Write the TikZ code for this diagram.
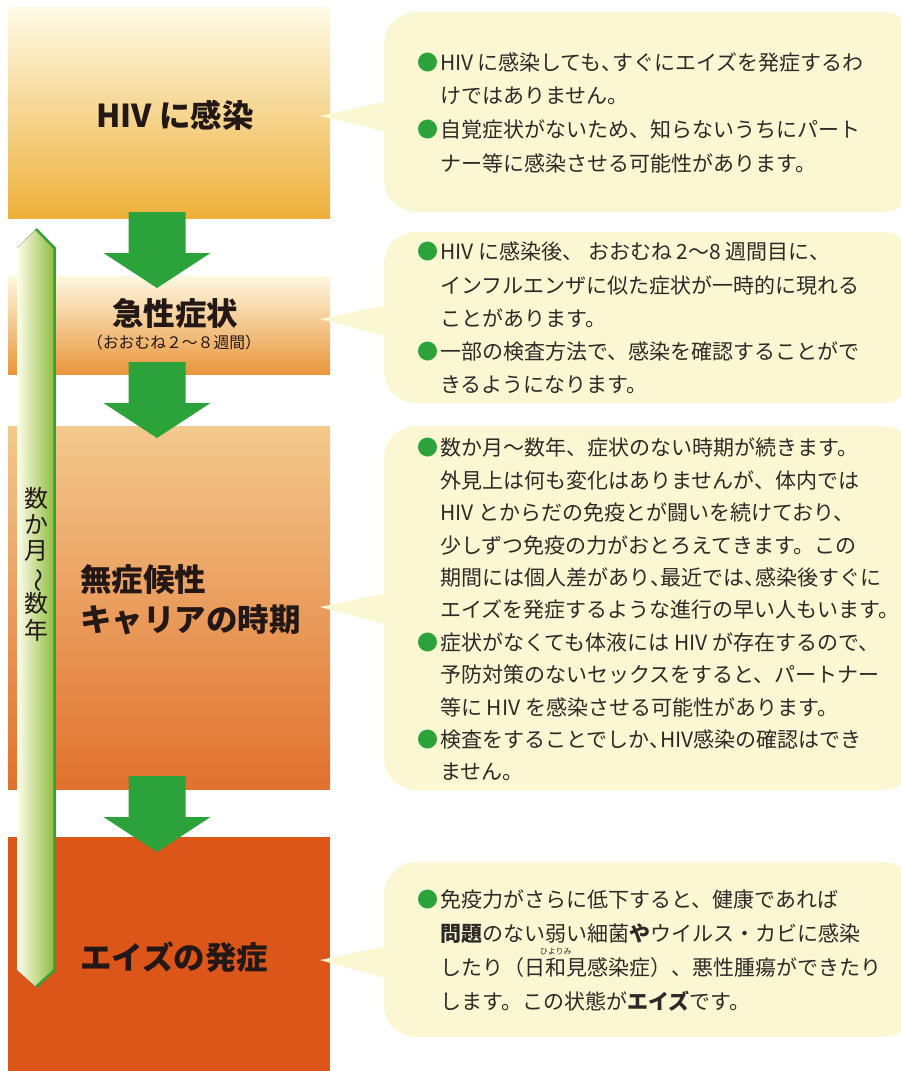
\documentclass[tikz,border=0pt]{standalone}
\usepackage{fontspec}
\setmainfont{Noto Sans CJK JP}
\usepackage{graphicx}
\definecolor{cream}{HTML}{FCF7D3}
\definecolor{agreen}{HTML}{2CA33A}
\definecolor{txt}{HTML}{231815}
\definecolor{btxt}{HTML}{2E2926}
\definecolor{bAtop}{HTML}{FEFBE6}
\definecolor{bAbot}{HTML}{EEB03B}
\definecolor{bBtop}{HTML}{FEF8E0}
\definecolor{bBbot}{HTML}{E9963B}
\definecolor{bCtop}{HTML}{F3C98C}
\definecolor{bCbot}{HTML}{E1712E}
\definecolor{bD}{HTML}{DC5519}
\definecolor{barL}{HTML}{FFFDEA}
\definecolor{barR}{HTML}{8CBB3B}
\definecolor{barE}{HTML}{35A035}
\newcommand\bul{\llap{\textcolor{agreen}{●}\kern1.5pt}}
\newcommand\hc{\makebox[0.5em][l]{、}}
\newcommand\myruby[2]{\leavevmode\setbox0\hbox{#1}\rlap{\hbox to\wd0{\hss\smash{\raisebox{1em}{\fontsize{8}{8}\selectfont #2}}\hss}}\box0}
\begin{document}
\begin{tikzpicture}[x=1pt,y=-1pt,
  stagebox/.style={draw=none,inner sep=0pt,outer sep=0pt,anchor=north west},
  title/.style={inner sep=0pt,text=txt,font=\fontsize{31.5}{40}\selectfont\bfseries},
  subtitle/.style={inner sep=0pt,text=txt,font=\fontsize{15.8}{17}\selectfont},
  ctext/.style={inner sep=0pt,anchor=north west,align=left,text=btxt},
  vtext/.style={inner sep=0pt,align=center,text=txt,font=\fontsize{24}{26.4}\selectfont},
  bigarrow/.pic={\fill[agreen] (-28.5,0) -- (28.5,0) -- (28.5,41) -- (53.5,41) -- (0,76) -- (-53.5,41) -- (-28.5,41) -- cycle;}
]
\useasboundingbox (0,0) rectangle (901,1071);
\fill[white] (0,0) rectangle (901,1071);
% stage boxes
\node[stagebox,minimum width=322pt,minimum height=211pt,top color=bAtop,bottom color=bAbot] (b1) at (8,7) {};
\node[stagebox,minimum width=322pt,minimum height=98pt,top color=bBtop,bottom color=bBbot] (b2) at (8,276) {};
\node[stagebox,minimum width=322pt,minimum height=363pt,top color=bCtop,bottom color=bCbot] (b3) at (8,426) {};
\node[stagebox,minimum width=322pt,minimum height=234pt,fill=bD] (b4) at (8,837) {};
% arrows
\pic at (157,212) {bigarrow};
\pic at (157,362) {bigarrow};
\pic at (157,776) {bigarrow};
% time bar
\fill[left color=barL,right color=barR] (17,248) -- (36,229) -- (55,248) -- (55,970) -- (36,987) -- (17,970) -- cycle;
\draw[barE,line width=2.5pt,line join=miter] (36,229) -- (54.5,248) -- (54.5,970) -- (36,987);
\node[vtext] (v) at (36,564) {数\\か\\月\\\rotatebox[origin=c]{-90}{～}\\数\\年};
% titles
\node[title] (t1) at (175,115) {HIV に感染};
\node[title] (t2) at (175,313) {急性症状};
\node[subtitle] (t2s) at (174,342) {（おおむね２～８週間）};
\node[title,anchor=west,align=left] (t3) at (80,600) {無症候性\\キャリアの時期};
\node[title,anchor=west] (t4) at (80,957) {エイズの発症};
% callouts
\fill[cream,rounded corners=32pt] (384,12) rectangle (915,212);
\fill[cream] (392,100) -- (320,116) -- (392,133) -- cycle;
\fill[cream,rounded corners=32pt] (384,232) rectangle (915,403);
\fill[cream] (392,304) -- (320,319) -- (392,338) -- cycle;
\fill[cream,rounded corners=32pt] (384,426) rectangle (915,790);
\fill[cream] (392,592) -- (320,607) -- (392,626) -- cycle;
\fill[cream,rounded corners=32pt] (384,862) rectangle (915,1037);
\fill[cream] (392,945) -- (320,960) -- (392,980) -- cycle;
% callout texts
\node[ctext,font=\fontsize{21}{33.7}\selectfont] (c1) at (440,52) {%
\bul HIV\,に感染しても\hc すぐにエイズを発症するわ\\
けではありません。\\
\bul 自覚症状がないため、知らないうちにパート\\
ナー等に感染させる可能性があります。};
\node[ctext,font=\fontsize{21}{33.25}\selectfont] (c2) at (440,242) {%
\bul HIV に感染後、 おおむね 2～8 週間目に、\\
インフルエンザに似た症状が一時的に現れる\\
ことがあります。\\
\bul 一部の検査方法で、感染を確認することがで\\
きるようになります。};
\node[ctext,font=\fontsize{21}{32.4}\selectfont] (c3) at (440,438) {%
\bul 数か月～数年、症状のない時期が続きます。\\
外見上は何も変化はありませんが、体内では\\
HIV とからだの免疫とが闘いを続けており、\\
少しずつ免疫の力がおとろえてきます。この\\
期間には個人差があり\hc 最近では\hc 感染後すぐに\\
エイズを発症するような進行の早い人もいます。\\
\bul 症状がなくても体液には HIV が存在するので、\\
予防対策のないセックスをすると、パートナー\\
等に HIV を感染させる可能性があります。\\
\bul 検査をすることでしか\hc HIV感染の確認はでき\\
ません。};
\node[ctext,font=\fontsize{21}{34}\selectfont] (c4) at (440,890) {%
\bul 免疫力がさらに低下すると、健康であれば\\
\textbf{問題}のない弱い細菌\textbf{や}ウイルス・カビに感染\\
したり（\myruby{日和見}{ひよりみ}感染症）、悪性腫瘍ができたり\\
します。この状態が\textbf{エイズ}です。};
\end{tikzpicture}
\end{document}
